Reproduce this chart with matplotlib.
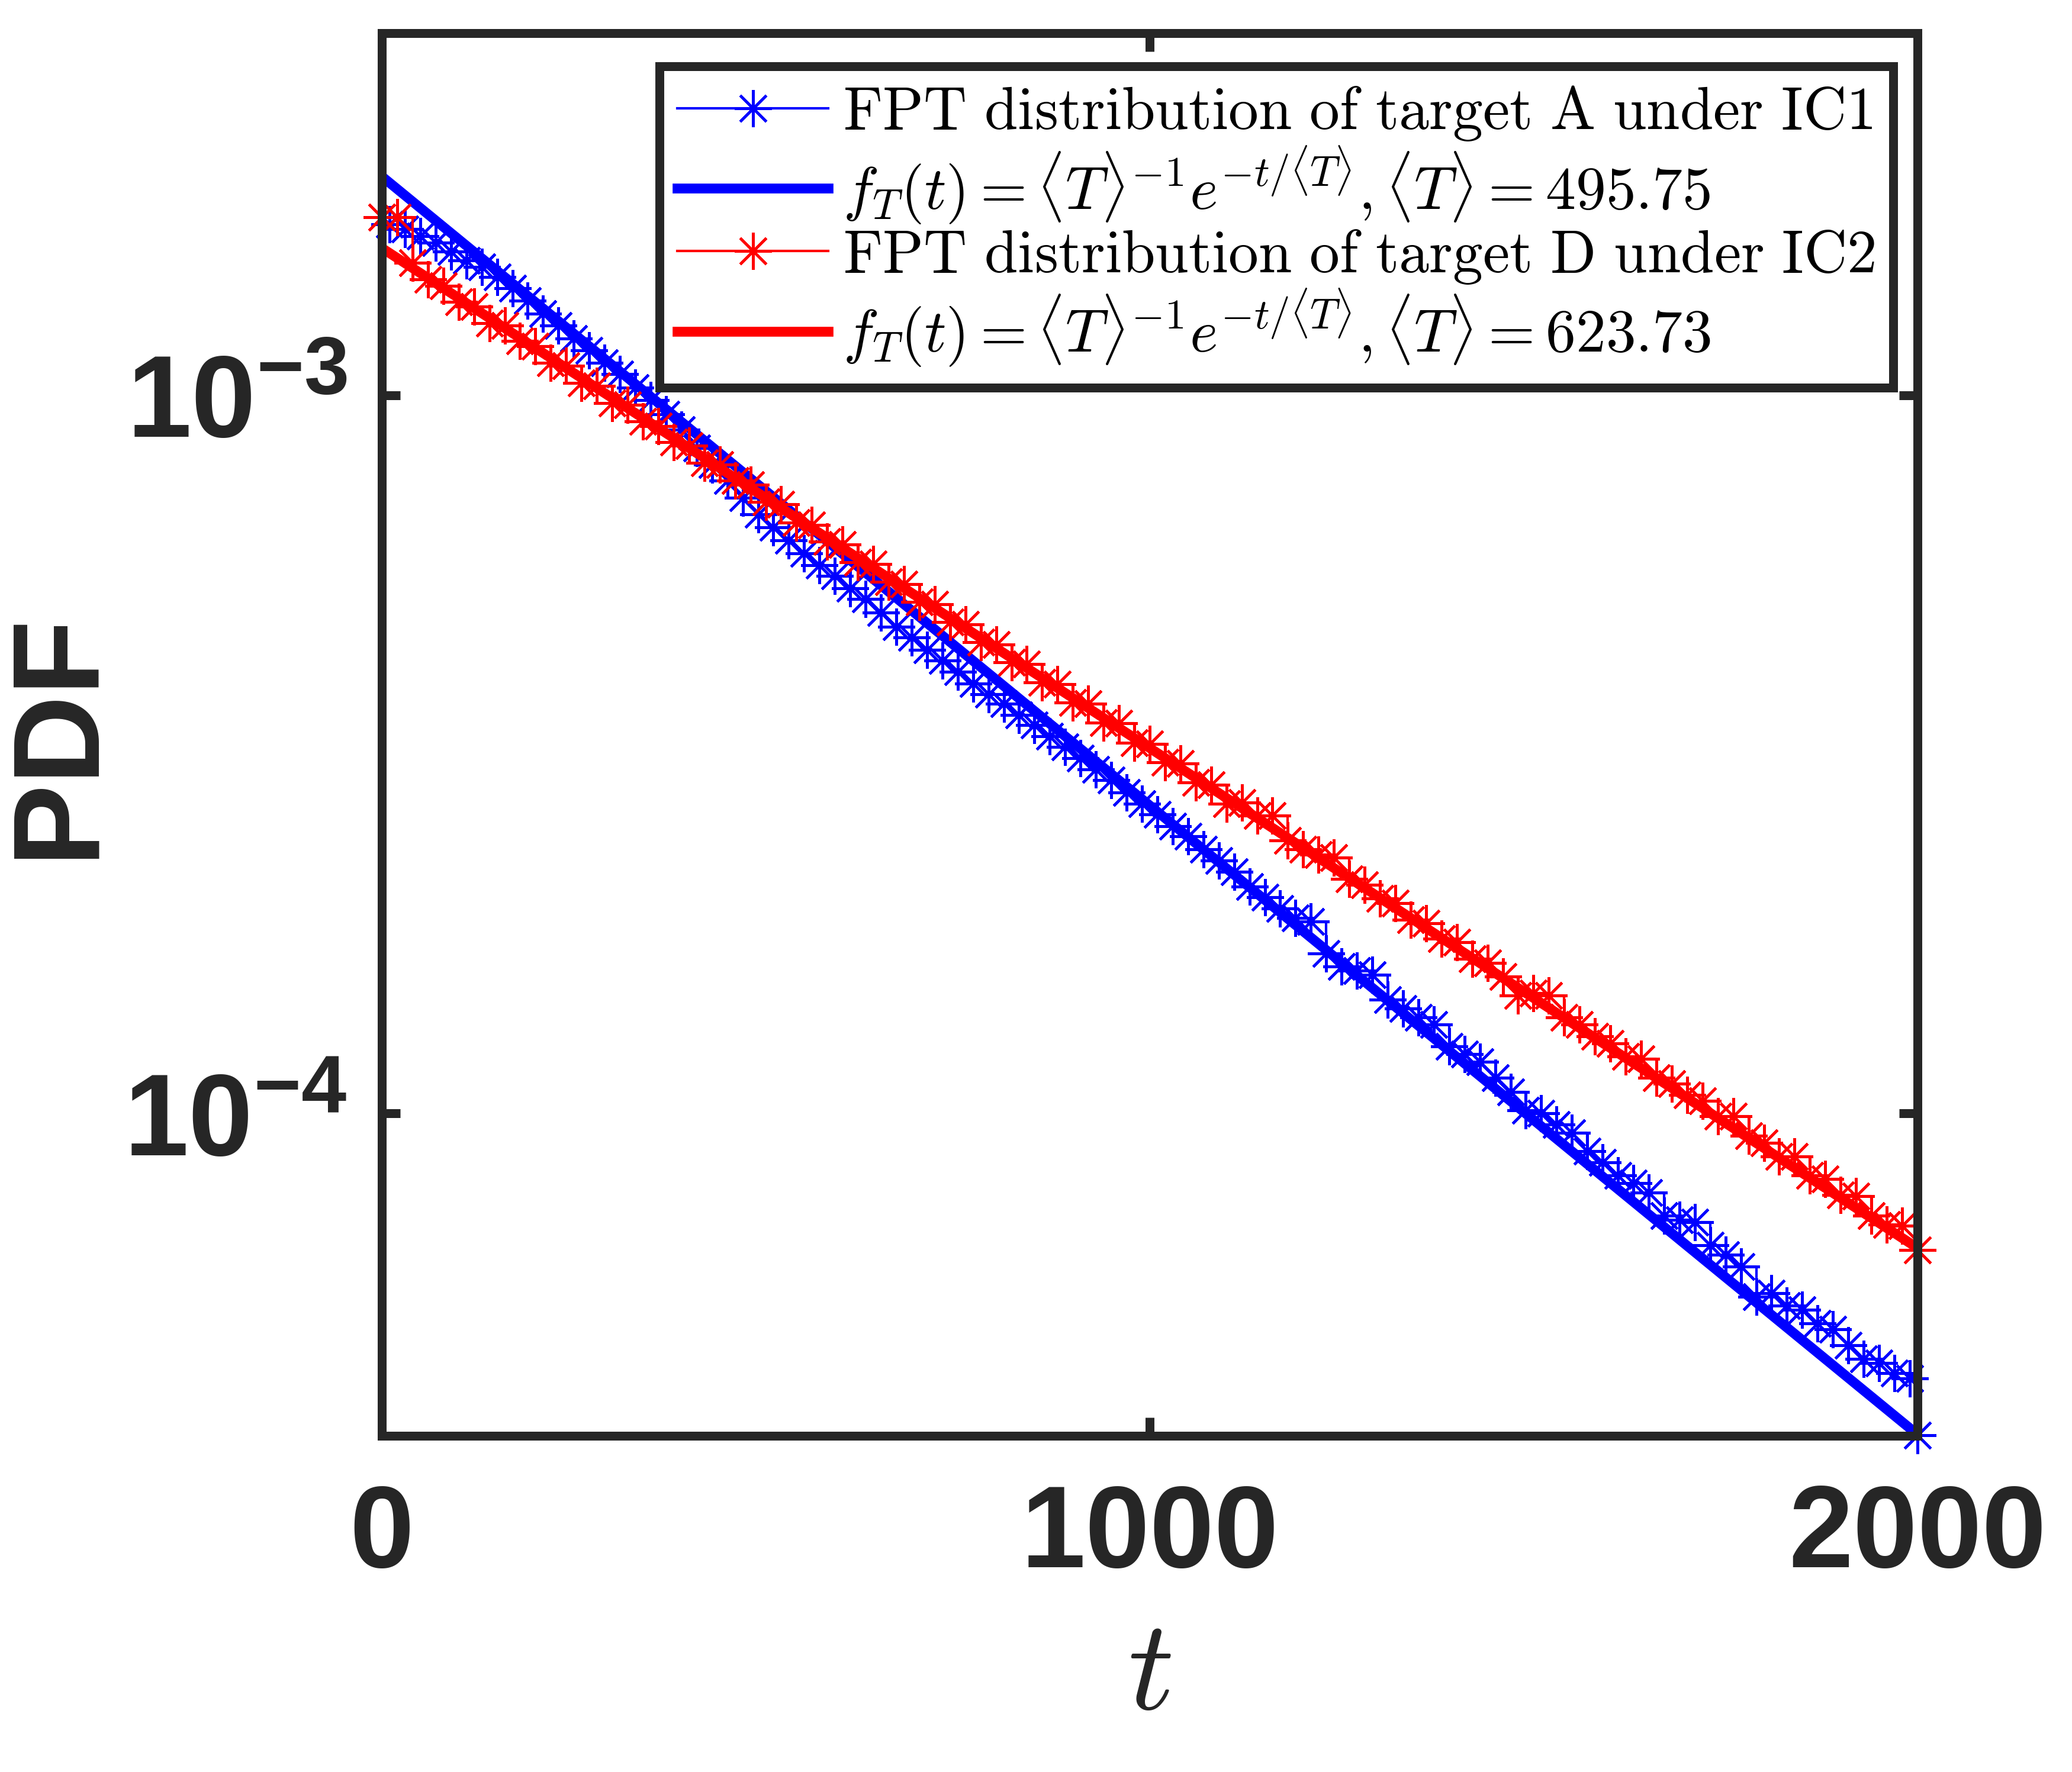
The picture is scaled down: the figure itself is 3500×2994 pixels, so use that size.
import numpy as np
import matplotlib
matplotlib.use('Agg')
import matplotlib.pyplot as plt
from matplotlib.font_manager import FontProperties
from matplotlib.ticker import FixedLocator, FixedFormatter, NullLocator

plt.rcParams['font.family'] = 'Liberation Sans'
plt.rcParams['font.weight'] = 'bold'
plt.rcParams['mathtext.fontset'] = 'custom'
plt.rcParams['mathtext.rm'] = 'Liberation Sans:bold'
plt.rcParams['mathtext.bf'] = 'Liberation Sans:bold'
plt.rcParams['mathtext.it'] = 'Liberation Sans:bold:italic'

# mean first passage times of the two fits
T_A = 495.75
T_D = 623.73

# FPT histogram, target A under IC1 (PDF in units of 1e-4)
t_A = [10, 30, 50, 70, 90, 110, 130, 150, 170, 190,
       210, 230, 250, 270, 290, 310, 330, 350, 370, 390,
       410, 430, 450, 470, 490, 510, 530, 550, 570, 590,
       610, 630, 650, 670, 690, 710, 730, 750, 770, 790,
       810, 830, 850, 870, 890, 910, 930, 950, 970, 990,
       1010, 1030, 1050, 1070, 1090, 1110, 1130, 1150, 1170, 1190,
       1210, 1230, 1250, 1270, 1290, 1310, 1330, 1350, 1370, 1390,
       1410, 1430, 1450, 1470, 1490, 1510, 1530, 1550, 1570, 1590,
       1610, 1630, 1650, 1670, 1690, 1710, 1730, 1750, 1770, 1790,
       1810, 1830, 1850, 1870, 1890, 1910, 1930, 1950, 1970, 1990, 2000]
pdf_A = [17.30, 17.05, 16.65, 16.30, 15.85, 15.40, 15.10, 14.60, 14.10, 13.55,
         13.00, 12.50, 12.00, 11.55, 11.10, 10.70, 10.25, 9.85, 9.40, 8.95,
         8.45, 8.00, 7.60, 7.20, 6.82, 6.55, 6.28, 6.02, 5.80, 5.60,
         5.38, 5.20, 4.98, 4.76, 4.60, 4.42, 4.27, 4.12, 3.97, 3.83,
         3.72, 3.59, 3.47, 3.35, 3.24, 3.12, 3.01, 2.91, 2.80, 2.70,
         2.61, 2.51, 2.43, 2.33, 2.25, 2.17, 2.07, 2.00, 1.93, 1.87,
         1.85, 1.67, 1.60, 1.58, 1.56, 1.44, 1.40, 1.36, 1.33, 1.24,
         1.21, 1.18, 1.12, 1.07, 1.01, 1.00, 0.965, 0.94, 0.885, 0.855,
         0.82, 0.80, 0.775, 0.72, 0.71, 0.705, 0.655, 0.635, 0.612, 0.555,
         0.562, 0.54, 0.533, 0.51, 0.50, 0.475, 0.455, 0.449, 0.435, 0.427, 0.356]

# FPT histogram, target D under IC2 (PDF in units of 1e-4)
t_D = list(range(0, 2001, 20))
pdf_D = [17.70, 17.70, 15.30, 14.50, 14.20, 13.50, 13.30, 12.60, 12.50, 11.90,
         11.70, 11.10, 11.00, 10.40, 10.30, 9.75, 9.70, 9.20, 9.05, 8.60,
         8.50, 8.05, 8.00, 7.60, 7.50, 7.10, 7.05, 6.65, 6.60, 6.25,
         6.20, 5.85, 5.82, 5.50, 5.46, 5.15, 5.12, 4.83, 4.80, 4.53,
         4.50, 4.25, 4.22, 3.98, 3.96, 3.73, 3.72, 3.50, 3.49, 3.28,
         3.27, 3.08, 3.07, 2.89, 2.87, 2.70, 2.71, 2.60, 2.60, 2.40,
         2.33, 2.29, 2.27, 2.12, 2.08, 1.99, 1.96, 1.86, 1.84, 1.75,
         1.73, 1.64, 1.62, 1.55, 1.46, 1.47, 1.46, 1.36, 1.33, 1.28,
         1.25, 1.20, 1.19, 1.12, 1.10, 1.06, 1.04, 0.99, 0.99, 0.93,
         0.91, 0.87, 0.87, 0.82, 0.81, 0.77, 0.767, 0.72, 0.70, 0.697, 0.645]

labels = [r'$\mathrm{FPT\ distribution\ of\ target\ A\ under\ IC1}$',
          r'$f_T(t)=\langle T\rangle^{-1}e^{-t/\langle T\rangle},\langle T\rangle=495.75$',
          r'$\mathrm{FPT\ distribution\ of\ target\ D\ under\ IC2}$',
          r'$f_T(t)=\langle T\rangle^{-1}e^{-t/\langle T\rangle},\langle T\rangle=623.73$']

dark = '#262626'
star = (8, 2, 0)

t_fit = np.linspace(0, 2000, 401)
fit_A = np.exp(-t_fit / T_A) / T_A
fit_D = np.exp(-t_fit / T_D) / T_D

fig = plt.figure(figsize=(3500 / 300, 2994 / 300), dpi=300)
ax = fig.add_axes([0.1843, 0.1897, 0.7411, 0.7916])

ax.plot(t_A, np.array(pdf_A) * 1e-4, color='b', lw=1.0, marker=star, ms=15,
        mew=1.1, drawstyle='steps-post', clip_on=False, label=labels[0])
ax.plot(t_fit, fit_A, color='b', lw=4, label=labels[1])
ax.plot(t_D, np.array(pdf_D) * 1e-4, color='r', lw=1.0, marker=star, ms=15,
        mew=1.1, drawstyle='steps-post', clip_on=False, label=labels[2])
ax.plot(t_fit, fit_D, color='r', lw=4, label=labels[3])

ax.set_yscale('log')
ax.set_xlim(0, 2000)
ax.set_ylim(3.554e-5, 3.194e-3)

ax.xaxis.set_major_locator(FixedLocator([0, 1000, 2000]))
ax.xaxis.set_major_formatter(FixedFormatter(['0', '1000', '2000']))
ax.yaxis.set_major_locator(FixedLocator([1e-4, 1e-3]))
ax.yaxis.set_major_formatter(FixedFormatter([r'$10^{-4}$', r'$10^{-3}$']))
ax.yaxis.set_minor_locator(NullLocator())
ax.xaxis.set_minor_locator(NullLocator())

ax.tick_params(which='major', direction='in', top=True, right=True,
               length=7.5, width=3.6, color=dark, labelcolor=dark,
               labelsize=47)
ax.tick_params(axis='x', pad=19)
ax.tick_params(axis='y', pad=14)
for lab in ax.get_xticklabels() + ax.get_yticklabels():
    lab.set_fontweight('bold')

for sp in ax.spines.values():
    sp.set_linewidth(3.6)
    sp.set_color(dark)

ax.set_ylabel('PDF', fontsize=50, fontweight='bold', color=dark)
ax.yaxis.set_label_coords(-0.173, 0.5)
ax.set_xlabel(r'$t$', fontsize=52, color=dark, labelpad=10,
              math_fontfamily='cm')

leg = ax.legend(loc='upper right', bbox_to_anchor=(0.9842, 0.9764),
                prop=FontProperties(size=24.4, math_fontfamily='cm'),
                handlelength=2.5, handletextpad=0.25, labelspacing=0.02,
                borderpad=0.3, borderaxespad=0, fancybox=False,
                framealpha=1, edgecolor=dark)
leg.get_frame().set_linewidth(3.6)

fig.savefig('out.png', dpi=300)
